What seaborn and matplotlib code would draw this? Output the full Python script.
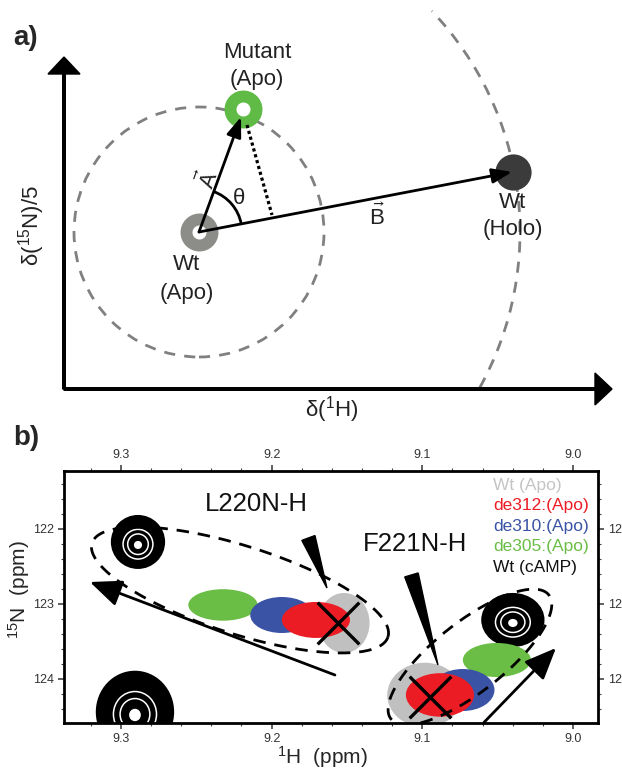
import numpy as np
import matplotlib
matplotlib.use("Agg")
import matplotlib.pyplot as plt
from matplotlib import font_manager
from matplotlib.patches import Circle, Arc, Ellipse, Polygon
from matplotlib.ticker import MultipleLocator
import seaborn as sns

# ---- Data ---------------------------------------------------
# panel a: schematic positions (arbitrary units, origin at the axes corner)
state_names = ["Wt (Apo)", "Mutant (Apo)", "Wt (Holo)"]
state_x = [135, 179, 449]
state_y = [157, 280, 217]
state_colors = ["#8c8c89", "#5fba46", "#3b3b3b"]
circle_radius = 125          # dashed circle round Wt (Apo)
holo_radius = 321            # dashed arc through Wt (Holo)
arc_span = [-29, 43.5]       # degrees
proj_foot = [208, 174]       # end of the dotted projection of A onto B

# panel b: peaks (1H ppm, 15N ppm, half widths)
peak_group = ["L220", "L220", "L220", "L220", "L220",
              "F221", "F221", "F221", "F221", "F221", "other"]
peak_state = ["Wt (Apo)", "de305:(Apo)", "de310:(Apo)", "de312:(Apo)", "Wt (cAMP)",
              "Wt (Apo)", "de305:(Apo)", "de310:(Apo)", "de312:(Apo)", "Wt (cAMP)",
              "Wt (cAMP)"]
peak_h = [9.152, 9.2323, 9.1932, 9.1706, 9.2887,
          9.0983, 9.0505, 9.0731, 9.0883, 9.0399, 9.2907]
peak_n = [123.253, 123.013, 123.147, 123.213, 122.173,
          124.213, 123.747, 124.147, 124.213, 123.213, 124.44]
peak_wh = [0.017, 0.023, 0.021, 0.0226, 0.018,
           0.025, 0.0226, 0.021, 0.0226, 0.021, 0.026]
peak_wn = [0.40, 0.21, 0.24, 0.24, 0.36,
           0.43, 0.227, 0.28, 0.29, 0.36, 0.55]

legend_labels = ["Wt (Apo)", "de312:(Apo)", "de310:(Apo)", "de305:(Apo)", "Wt (cAMP)"]
legend_colors = ["#c4c4c4", "#ec1c24", "#3a53a4", "#6abd45", "#111111"]
state_color = dict(zip(legend_labels, legend_colors))
state_color["Wt (Apo)"] = "#c0c0c0"
state_color["Wt (cAMP)"] = "#000000"

# reference peak for each residue (the X marks)
x_marks_h = [9.156, 9.095]
x_marks_n = [123.253, 124.24]

# dashed enclosures: two end points (ppm) and half width (px)
encl_start = [(9.3192, 122.187), (9.1208, 124.533)]
encl_end = [(9.1228, 123.44), (9.016, 122.88)]
encl_halfwidth = [44, 35]

# trajectory arrows (tail -> tip)
traj_tail = [(9.158, 123.947), (9.0591, 124.58)]
traj_tip = [(9.3206, 122.707), (9.0113, 123.587)]

# pointer wedges (base centre -> tip)
ptr_base = [(9.1756, 122.12), (9.1072, 122.613)]
ptr_tip = [(9.1633, 122.787), (9.0896, 123.813)]

residue_labels = ["L220N-H", "F221N-H"]
residue_h = [9.2104, 9.1049]
residue_n = [121.667, 122.2]

x_ticks = [9.3, 9.2, 9.1, 9.0]
y_ticks = [122, 123, 124]

# ---- Style --------------------------------------------------
sns.set_style("white")
names = {f.name for f in font_manager.fontManager.ttflist}
narrow = "Liberation Sans Narrow" if "Liberation Sans Narrow" in names else "Liberation Sans"
plt.rcParams["font.family"] = ["Liberation Sans", "DejaVu Sans"]
plt.rcParams["mathtext.default"] = "regular"
fam_a = [narrow, "DejaVu Sans"]

fig = plt.figure(figsize=(6.22, 7.68), dpi=100)

# =============================================================
# Panel a: schematic
# =============================================================
ax_a = fig.add_axes([0, 348 / 768, 1, 420 / 768])
ax_a.set_xlim(-64, 558)
ax_a.set_ylim(-31, 389)
ax_a.axis("off")

# axis arrows
ax_a.arrow(0, 0, 0, 332, width=2.6, head_width=32, head_length=17,
           length_includes_head=True, color="black", zorder=2)
ax_a.arrow(0, 0, 548, 0, width=2.6, head_width=32, head_length=17,
           length_includes_head=True, color="black", zorder=2)

grey_dash = dict(color="#808080", lw=2, ls=(0, (4, 3.3)), fill=False)
ax_a.add_patch(Circle((state_x[0], state_y[0]), circle_radius, **grey_dash))
ax_a.add_patch(Arc((state_x[0], state_y[0]), 2 * holo_radius, 2 * holo_radius,
                   theta1=arc_span[0], theta2=arc_span[1],
                   color="#808080", lw=2, ls=(0, (4, 3.3))))

# state markers
sns.scatterplot(x=state_x[:1], y=state_y[:1], s=350, color="white",
                edgecolor=state_colors[0], linewidth=8.6, ax=ax_a, zorder=3)
sns.scatterplot(x=state_x[1:2], y=state_y[1:2], s=350, color="white",
                edgecolor=state_colors[1], linewidth=8.6, ax=ax_a, zorder=3)
sns.scatterplot(x=state_x[2:], y=state_y[2:], s=680, color=state_colors[2],
                linewidth=0, ax=ax_a, zorder=3)

# vectors A and B
head = "-|>,head_length=1.2,head_width=0.45"
ax_a.annotate("", xy=(state_x[1] - 2, state_y[1] - 8), xytext=(state_x[0], state_y[0]),
              arrowprops=dict(arrowstyle=head, lw=2, color="black",
                              shrinkA=0, shrinkB=0, mutation_scale=10), zorder=4)
ax_a.annotate("", xy=(state_x[2] - 1, state_y[2]), xytext=(state_x[0], state_y[0]),
              arrowprops=dict(arrowstyle=head, lw=2, color="black",
                              shrinkA=0, shrinkB=0, mutation_scale=10), zorder=4)

# dotted projection and angle
ax_a.plot([state_x[1] + 4, proj_foot[0]], [state_y[1] - 16, proj_foot[1]],
          color="black", lw=2.3, ls=(0, (1, 0.9)), zorder=4)
ang_a = np.degrees(np.arctan2(state_y[1] - state_y[0], state_x[1] - state_x[0]))
ang_b = np.degrees(np.arctan2(state_y[2] - state_y[0], state_x[2] - state_x[0]))
ax_a.add_patch(Arc((state_x[0], state_y[0]), 86, 86, theta1=ang_b, theta2=ang_a,
                   color="black", lw=2, zorder=4))

txt = dict(fontsize=16, family=fam_a, ha="center", va="center", color="#222222")
ax_a.text(193, 337, "Mutant", **txt)
ax_a.text(193, 309, "(Apo)", **txt)
ax_a.text(123, 124, "Wt", **txt)
ax_a.text(123, 96, "(Apo)", **txt)
ax_a.text(449, 187, "Wt", **txt)
ax_a.text(449, 159, "(Holo)", **txt)
ax_a.text(175, 191, "θ", **txt)
ax_a.text(313, 172, r"$\vec{B}$", **txt)
ax_a.text(144, 209, r"$\vec{A}$", rotation=ang_a, **txt)
ax_a.text(268, -21, "δ($^{1}$H)", **txt)
ax_a.text(-32, 164, "δ($^{15}$N)/5", rotation=90, **txt)

# =============================================================
# Panel b: NMR spectrum overlay
# =============================================================
ax_b = fig.add_axes([64 / 622, 45 / 768, 534 / 622, 252 / 768])
ax_b.set_xlim(9.3378, 8.9834)
ax_b.set_ylim(124.587, 121.227)

order = ["Wt (cAMP)", "Wt (Apo)", "de305:(Apo)", "de310:(Apo)", "de312:(Apo)"]
for st in order:
    for h, n, wh, wn, s in zip(peak_h, peak_n, peak_wh, peak_wn, peak_state):
        if s != st:
            continue
        ax_b.add_patch(Ellipse((h, n), 2 * wh, 2 * wn, color=state_color[s], lw=0, zorder=2))
        if s == "Wt (cAMP)":
            for f in [0.55, 0.38]:
                ax_b.add_patch(Ellipse((h, n + 0.03), 2 * wh * f, 2 * wn * f, fill=False,
                                       ec="white", lw=1.1, zorder=2.5))
            ax_b.add_patch(Ellipse((h, n + 0.04), 2 * wh * 0.15, 2 * wn * 0.15,
                                   color="white", lw=0, zorder=2.5))

sns.scatterplot(x=x_marks_h, y=x_marks_n, marker="x", s=900, color="black",
                linewidth=2.4, ax=ax_b, zorder=5)

fig.canvas.draw()
T = ax_b.transData
t = np.linspace(0, 2 * np.pi, 300)
for p0, p1, hw in zip(encl_start, encl_end, encl_halfwidth):
    a0, a1 = T.transform([p0, p1])
    c = (a0 + a1) / 2
    u = (a1 - a0) / 2
    nrm = np.array([-u[1], u[0]]) / np.hypot(*u) * hw
    pts = c + np.outer(np.cos(t), u) + np.outer(np.sin(t), nrm)
    d = T.inverted().transform(pts)
    ax_b.plot(d[:, 0], d[:, 1], color="black", lw=2, ls=(0, (4.5, 3.2)), zorder=4)

for p0, p1 in zip(ptr_base, ptr_tip):
    b0, b1 = T.transform([p0, p1])
    v = b1 - b0
    nrm = np.array([-v[1], v[0]]) / np.hypot(*v) * 7
    tri = T.inverted().transform([b0 + nrm, b0 - nrm, b1])
    ax_b.add_patch(Polygon(tri, closed=True, color="black", zorder=6))

for p0, p1 in zip(traj_tail, traj_tip):
    ax_b.annotate("", xy=p1, xytext=p0,
                  arrowprops=dict(arrowstyle="-|>,head_length=1.3,head_width=0.55",
                                  lw=2, color="black", shrinkA=0, shrinkB=0,
                                  mutation_scale=15), zorder=6)

for lab, h, n in zip(residue_labels, residue_h, residue_n):
    ax_b.text(h, n, lab, fontsize=18.5, ha="center", va="center", color="#111111")

for i, (lab, col) in enumerate(zip(legend_labels, legend_colors)):
    ax_b.text(0.803, 0.944 - i * 0.0815, lab, color=col, fontsize=12.5,
              ha="left", va="center", transform=ax_b.transAxes)

ax_b.set_xticks(x_ticks)
ax_b.set_yticks(y_ticks)
ax_b.set_xticklabels([f"{v:.1f}" for v in x_ticks])
ax_b.xaxis.set_minor_locator(MultipleLocator(0.02))
ax_b.yaxis.set_minor_locator(MultipleLocator(0.2))
ax_b.tick_params(which="both", direction="out", top=True, bottom=True, left=True, right=True,
                 labeltop=True, labelright=True, labelsize=9, labelcolor="#333333",
                 color="#444444")
ax_b.tick_params(which="major", length=4, width=1.2, pad=3)
ax_b.tick_params(which="minor", length=2.5, width=0.8)
for sp in ax_b.spines.values():
    sp.set_linewidth(2)
    sp.set_color("black")

fig.text(322 / 622, 1 - 757 / 768, "$^{1}$H  (ppm)", fontsize=15, ha="center", va="center")
fig.text(19 / 622, 1 - 590 / 768, "$^{15}$N  (ppm)", fontsize=15, rotation=90,
         ha="center", va="center")
fig.text(13 / 622, 1 - 38 / 768, "a)", fontsize=20, weight="bold", ha="left", va="center")
fig.text(13 / 622, 1 - 438 / 768, "b)", fontsize=20, weight="bold", ha="left", va="center")

fig.savefig("out.png", dpi=100)
